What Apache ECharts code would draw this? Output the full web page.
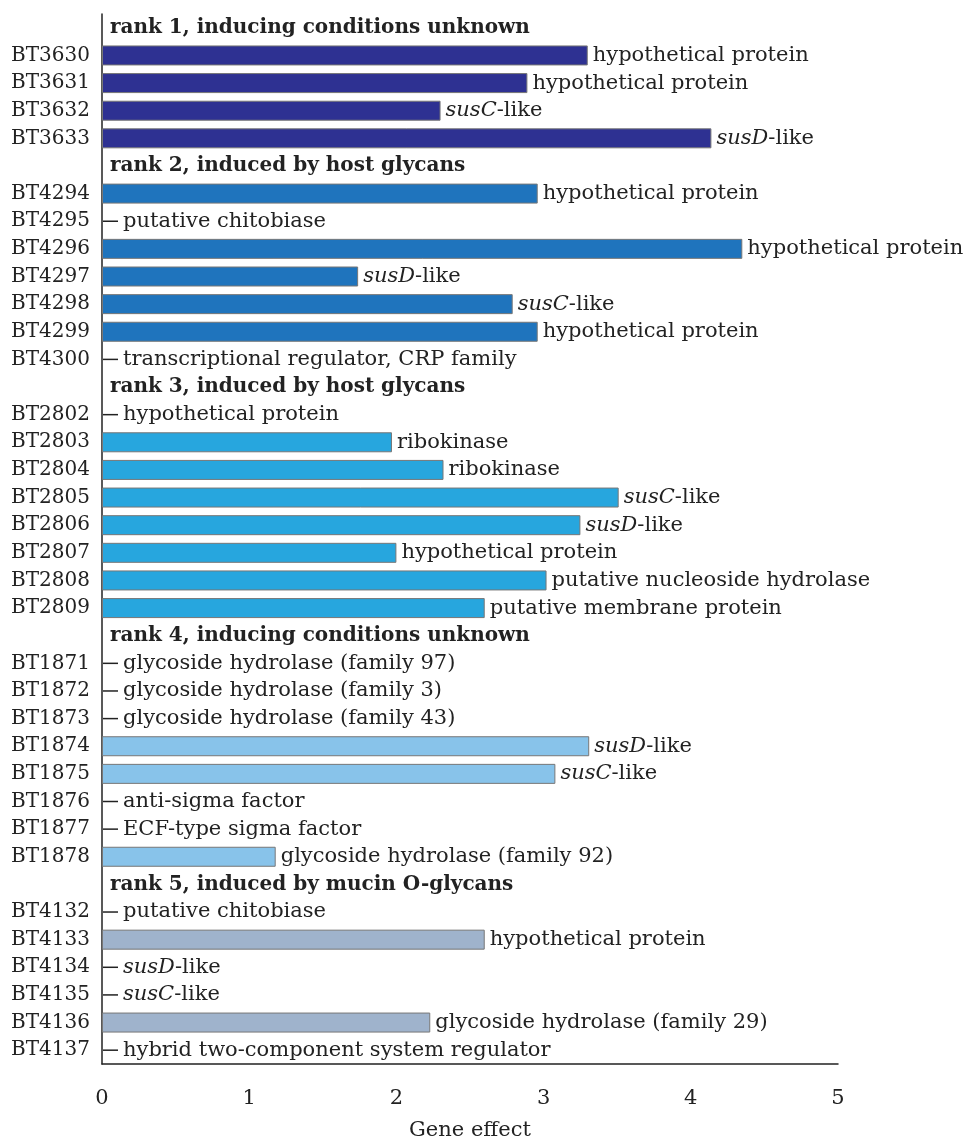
<!DOCTYPE html>
<html>
<head>
<meta charset="utf-8">
<script src="https://cdn.jsdelivr.net/npm/echarts@6/dist/echarts.min.js"></script>
<style>
  html, body { margin: 0; padding: 0; background: #fff; }
  #main { width: 971px; height: 1140px; }
</style>
</head>
<body>
<div id="main"></div>
<script>
// header rows are named 'rank N'; they only carry the bold title
const rankTitles = [
    'rank 1, inducing conditions unknown',
    'rank 2, induced by host glycans',
    'rank 3, induced by host glycans',
    'rank 4, inducing conditions unknown',
    'rank 5, induced by mucin O-glycans'
]
const rankColors = ['#2e3192', '#1f74bd', '#27a6de', '#88c3ea', '#9fb3cc']

const categories = [
    'rank 1', 'BT3630', 'BT3631', 'BT3632', 'BT3633',
    'rank 2', 'BT4294', 'BT4295', 'BT4296', 'BT4297', 'BT4298', 'BT4299', 'BT4300',
    'rank 3', 'BT2802', 'BT2803', 'BT2804', 'BT2805', 'BT2806', 'BT2807', 'BT2808', 'BT2809',
    'rank 4', 'BT1871', 'BT1872', 'BT1873', 'BT1874', 'BT1875', 'BT1876', 'BT1877', 'BT1878',
    'rank 5', 'BT4132', 'BT4133', 'BT4134', 'BT4135', 'BT4136', 'BT4137'
]
const effects = [
    null, 3.30, 2.89, 2.30, 4.14,
    null, 2.96, 0, 4.35, 1.74, 2.79, 2.96, 0,
    null, 0, 1.97, 2.32, 3.51, 3.25, 2.00, 3.02, 2.60,
    null, 0, 0, 0, 3.31, 3.08, 0, 0, 1.18,
    null, 0, 2.60, 0, 0, 2.23, 0
]
// {i|...} marks the italic gene names
const notes = [
    '', 'hypothetical protein', 'hypothetical protein', '{i|susC}-like', '{i|susD}-like',
    '', 'hypothetical protein', 'putative chitobiase', 'hypothetical protein', '{i|susD}-like',
    '{i|susC}-like', 'hypothetical protein', 'transcriptional regulator, CRP family',
    '', 'hypothetical protein', 'ribokinase', 'ribokinase', '{i|susC}-like', '{i|susD}-like',
    'hypothetical protein', 'putative nucleoside hydrolase', 'putative membrane protein',
    '', 'glycoside hydrolase (family 97)', 'glycoside hydrolase (family 3)',
    'glycoside hydrolase (family 43)', '{i|susD}-like', '{i|susC}-like', 'anti-sigma factor',
    'ECF-type sigma factor', 'glycoside hydrolase (family 92)',
    '', 'putative chitobiase', 'hypothetical protein', '{i|susD}-like', '{i|susC}-like',
    'glycoside hydrolase (family 29)', 'hybrid two-component system regulator'
]

const font = 'DejaVu Serif'

function wrapPlain(s) {
    // wrap the non-italic parts into the plain rich style
    return s.split(/(\{i\|[^}]*\})/).filter(p => p).map(p => p.startsWith('{i|') ? p : '{n|' + p + '}').join('')
}

let rank = -1
let data = categories.map((c, i) => {
    if (c.startsWith('rank')) {
        rank++
        return {
            value: 0,
            itemStyle: { color: 'transparent', borderWidth: 0 },
            label: { formatter: '{b|' + rankTitles[rank] + '}', distance: 8 }
        }
    }
    if (effects[i] === 0) {
        return {
            value: 0,
            itemStyle: { color: 'transparent', borderWidth: 0 },
            label: { formatter: '{d|}{s|}' + wrapPlain(notes[i]), distance: 1 }
        }
    }
    return {
        value: effects[i],
        itemStyle: { color: rankColors[rank] },
        label: { formatter: wrapPlain(notes[i]) }
    }
})

let myChart = echarts.init(document.getElementById('main'))

let option = {
    animation: false,
    grid: { left: 102, right: 133, top: 14, bottom: 76, outerBoundsMode: 'none' },
    xAxis: {
        type: 'value',
        min: 0,
        max: 5,
        interval: 1,
        splitLine: { show: false },
        axisTick: { show: false },
        axisLine: { show: true, lineStyle: { color: '#222', width: 1.5 } },
        axisLabel: { color: '#222', fontFamily: font, fontSize: 21, margin: 24 },
        name: 'Gene effect',
        nameLocation: 'middle',
        nameGap: 56,
        nameTextStyle: { color: '#222', fontFamily: font, fontSize: 21 }
    },
    yAxis: {
        type: 'category',
        inverse: true,
        data: categories,
        axisTick: { show: false },
        axisLine: { show: true, lineStyle: { color: '#222', width: 1.5 } },
        axisLabel: {
            color: '#222', fontFamily: font, fontSize: 20, margin: 12,
            formatter: v => v.startsWith('rank') ? '' : v
        }
    },
    series: [
        {
            type: 'bar',
            data: data,
            barWidth: 20,
            itemStyle: { borderColor: '#777', borderWidth: 1 },
            label: {
                show: true,
                position: 'right',
                distance: 5,
                rich: {
                    n: { color: '#222', fontFamily: font, fontSize: 21 },
                    i: { color: '#222', fontFamily: font, fontSize: 21, fontStyle: 'italic' },
                    b: { color: '#222', fontFamily: font, fontSize: 20, fontWeight: 'bold' },
                    d: { width: 15, height: 1.5, backgroundColor: '#222' },
                    s: { width: 5, height: 1 }
                }
            }
        }
    ]
}

myChart.setOption(option)
</script>
</body>
</html>
